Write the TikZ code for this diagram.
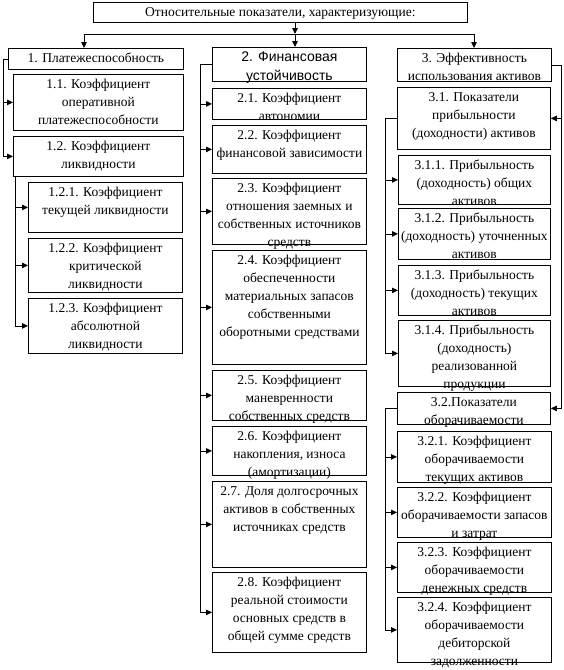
\documentclass[tikz,border=0pt]{standalone}
\usepackage{fontspec}
\setmainfont{Liberation Serif}
\newfontfamily\sansf{Liberation Sans}
\usetikzlibrary{arrows.meta}

% text block of a fixed size, lines from the top
\newcommand{\boxtext}[3]{\parbox[t][#2pt][t]{#1pt}{\centering\fontsize{13.5}{18}\selectfont\rule{0pt}{14pt}#3}}

\begin{document}
\begin{tikzpicture}[x=1pt,y=-1pt,>={Triangle[length=6pt,width=5.5pt]},line width=0.8pt,
    box/.style={draw,inner sep=0pt,anchor=north west}]
    \useasboundingbox (0,0) rectangle (564,670);

    % Top
    \node[box] (top) at (93,2) {\boxtext{374}{20}{Относительные показатели, характеризующие:}};
    \coordinate (hub) at (295,34);
    \coordinate (hubl) at (84,34);
    \coordinate (hubr) at (474,34);

    % Column 1
    \node[box] (g1) at (8,48) {\boxtext{175}{21}{1. Платежеспособность}};
    \node[box] (k11) at (13,74) {\boxtext{170}{56}{1.1. Коэффициент\\оперативной\\платежеспособности}};
    \node[box] (k12) at (13,136) {\boxtext{170}{40}{1.2. Коэффициент\\ликвидности}};
    \node[box] (k121) at (28,182) {\boxtext{154}{50}{1.2.1. Коэффициент\\текущей ликвидности}};
    \node[box] (k122) at (28,238) {\boxtext{154}{54}{1.2.2. Коэффициент\\критической\\ликвидности}};
    \node[box] (k123) at (28,298) {\boxtext{154}{55}{1.2.3. Коэффициент\\абсолютной\\ликвидности}};

    % Column 2
    \node[box] (g2) at (212,47) {\boxtext{154}{34}{\sansf\fontsize{14}{19}\selectfont 2. Финансовая\\устойчивость}};
    \node[box] (k21) at (212,88) {\boxtext{154}{31}{2.1. Коэффициент\\автономии}};
    \node[box] (k22) at (212,125) {\boxtext{154}{48}{2.2. Коэффициент\\финансовой зависимости}};
    \node[box] (k23) at (212,178) {\boxtext{154}{66}{2.3. Коэффициент\\отношения заемных и\\собственных источников\\средств}};
    \node[box] (k24) at (212,250) {\boxtext{154}{114}{2.4. Коэффициент\\обеспеченности\\материальных запасов\\собственными\\оборотными средствами}};
    \node[box] (k25) at (212,370) {\boxtext{154}{50}{2.5. Коэффициент\\маневренности\\собственных средств}};
    \node[box] (k26) at (212,426) {\boxtext{154}{49}{2.6. Коэффициент\\накопления, износа\\(амортизации)}};
    \node[box] (k27) at (212,481) {\boxtext{154}{86}{2.7. Доля долгосрочных\\активов в собственных\\источниках средств}};
    \node[box] (k28) at (212,572) {\boxtext{154}{80}{2.8. Коэффициент\\реальной стоимости\\основных средств в\\общей сумме средств}};

    % Column 3
    \node[box] (g3) at (397,48) {\boxtext{154}{33}{3. Эффективность\\использования активов}};
    \node[box] (k31) at (397,87) {\boxtext{153}{62}{3.1. Показатели\\прибыльности\\(доходности) активов}};
    \node[box] (k311) at (398,155) {\boxtext{152}{49}{3.1.1. Прибыльность\\(доходность) общих\\активов}};
    \node[box] (k312) at (398,208) {\boxtext{152}{51}{3.1.2. Прибыльность\\(доходность) уточненных\\активов}};
    \node[box] (k313) at (398,265) {\boxtext{152}{50}{3.1.3. Прибыльность\\(доходность) текущих\\активов}};
    \node[box] (k314) at (398,320) {\boxtext{152}{66}{3.1.4. Прибыльность\\(доходность)\\реализованной\\продукции}};
    \node[box] (k32) at (397,392) {\boxtext{153}{32}{3.2.Показатели\\оборачиваемости}};
    \node[box] (k321) at (397,431) {\boxtext{154}{51}{3.2.1. Коэффициент\\оборачиваемости\\текущих активов}};
    \node[box] (k322) at (397,487) {\boxtext{154}{50}{3.2.2. Коэффициент\\оборачиваемости запасов\\и затрат}};
    \node[box] (k323) at (397,542) {\boxtext{154}{50}{3.2.3. Коэффициент\\оборачиваемости\\денежных средств}};
    \node[box] (k324) at (397,597) {\boxtext{154}{65}{3.2.4. Коэффициент\\оборачиваемости\\дебиторской\\задолженности}};

    % Lines from the top
    \draw[->] (top.south -| hub) -- (hub);
    \draw (hubl) -- (hubr);
    \draw[->] (hubl) -- (g1.north -| hubl);
    \draw[->] (hub) -- (g2.north -| hub);
    \draw[->] (hubr) -- (g3.north -| hubr);

    % Side lines
    \coordinate (l1) at (3,0);
    \coordinate (l12) at (15,0);
    \coordinate (l2) at (200,0);
    \coordinate (l3) at (385,0);
    \coordinate (r3) at (561,0);
    \foreach \k in {k11,k12}
        \draw[->] (g1.west) -- (g1.west -| l1) |- (\k.west);
    \foreach \k in {k121,k122,k123}
        \draw[->] (k12.south -| l12) |- (\k.west);
    \foreach \k in {k21,k22,k23,k24,k25,k26,k27,k28}
        \draw[->] (g2.west) -- (g2.west -| l2) |- (\k.west);
    \foreach \k in {k31,k32}
        \draw[->] (g3.east) -- (g3.east -| r3) |- (\k.east);
    \foreach \k in {k311,k312,k313,k314}
        \draw[->] (k31.west) -- (k31.west -| l3) |- (\k.west);
    \foreach \k in {k321,k322,k323,k324}
        \draw[->] (k32.west) -- (k32.west -| l3) |- (\k.west);
\end{tikzpicture}
\end{document}
